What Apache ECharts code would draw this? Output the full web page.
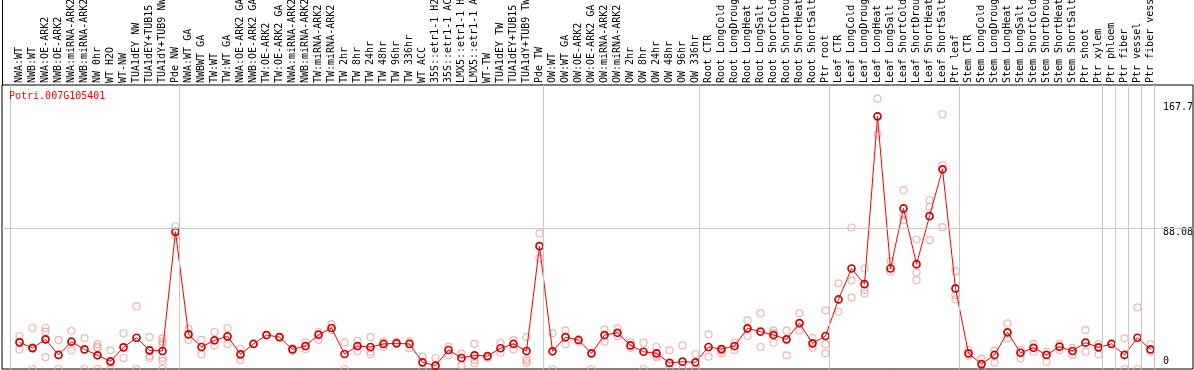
<!DOCTYPE html>
<html><head><meta charset="utf-8">
<script src="https://cdn.jsdelivr.net/npm/echarts@6/dist/echarts.min.js"></script>
<style>html,body{margin:0;padding:0;background:#fff}#c{width:1194px;height:370px}</style>
</head><body><div id="c"></div>
<script>
const chartTitle = 'Potri.007G105401';
const categories = [
 'NWA:WT','NWB:WT','NWA:OE-ARK2','NWB:OE-ARK2','NWA:miRNA-ARK2','NWB:miRNA-ARK2','NW 0hr','WT H2O','WT-NW',
 'TUA1dEY NW','TUA1dEY+TUB15 NW','TUA1dY+TUB9 NW','Pde NW',
 'NWA:WT GA','NWBWT GA','TW:WT','TW:WT GA','NWA:OE-ARK2 GA','NWB:OE-ARK2 GA','TW:OE-ARK2','TW:OE-ARK2 GA',
 'NWA:miRNA-ARK2','NWB:miRNA-ARK2','TW:miRNA-ARK2','TW:miRNA-ARK2','TW 2hr','TW 8hr','TW 24hr','TW 48hr','TW 96hr','TW 336hr',
 'WT ACC','35S::etr1-1 H2O','35S::etr1-1 ACC','LMX5::etr1-1 H2O','LMX5::etr1-1 ACC','WT-TW',
 'TUA1dEY TW','TUA1dEY+TUB15 TW','TUA1dY+TUB9 TW','Pde TW',
 'OW:WT','OW:WT GA','OW:OE-ARK2','OW:OE-ARK2 GA','OW:miRNA-ARK2','OW:miRNA-ARK2','OW 2hr','OW 8hr','OW 24hr','OW 48hr','OW 96hr','OW 336hr',
 'Root CTR','Root LongCold','Root LongDrought','Root LongHeat','Root LongSalt','Root ShortCold','Root ShortDrought','Root ShortHeat','Root ShortSalt','Ptr root',
 'Leaf CTR','Leaf LongCold','Leaf LongDrought','Leaf LongHeat','Leaf LongSalt','Leaf ShortCold','Leaf ShortDrought','Leaf ShortHeat','Leaf ShortSalt','Ptr leaf',
 'Stem CTR','Stem LongCold','Stem LongDrought','Stem LongHeat','Stem LongSalt','Stem ShortCold','Stem ShortDrought','Stem ShortHeat','Stem ShortSalt',
 'Ptr shoot','Ptr xylem','Ptr phloem','Ptr fiber','Ptr vessel','Ptr fiber vessel'
];
const means = [
 16.7,13.1,18.6,8.8,17.1,12.3,8.6,4.8,13.6,19.6,11.7,11.3,86.0,
 21.7,13.8,18.0,20.5,9.2,15.7,21.3,20.0,12.3,14.4,21.5,25.7,9.4,14.4,13.8,15.7,16.1,15.7,
 4.2,2.1,11.9,6.9,8.6,8.1,13.0,15.7,11.3,77.0,
 11.1,20.0,18.2,9.8,21.3,22.7,14.8,10.8,9.8,3.8,4.6,4.2,
 13.8,12.5,14.4,25.5,23.4,21.3,18.6,28.8,16.1,20.7,
 43.6,63.0,53.2,158.4,63.0,100.7,65.7,95.8,125.2,50.5,
 9.8,3.1,8.8,23.0,10.2,13.3,8.8,14.0,11.3,
 16.5,13.6,15.7,8.8,19.6,12.3
];
const replicates = [
 [20.7,12.3,17.1],[25.7,0,13.6],[25.7,23.4,7.5],[18.2,0],[23.8,11.7],[19.4,0],[15.6,14,13,0],[11.7,3.6,0],[22.4,6.9],
 [39.2,0],[20,8.1,6.9],[19.2,17.1,15.5,6.9,5,0],[89.5,83.7],
 [25.2,18.2],[18.2,9.2],[23.2,14.8],[25.7,15.7],[12.7,5.6],[15.7],[21.3],[20.0],
 [13.3,11.5],[16.7,12.5],[23.2,18.2],[28,24.4],[16.7,0],[17.7,11.3],[20,10.8,9.2],[17.1,14],[17.1],[17.1,13],
 [7.7,0],[6.9],[14,8.8],[9.6,2.3],[15.7,5.6,3.6],[6.9],
 [16.3,10.2],[18,12.3],[20,6.4,5,3.6],[85,69.3],
 [22.5,0],[24.2,15.5],[17.1],[0],[24.9,17.1],[25.5,20.7],[16.7,13.3],[16.5,0],[13.8,8.3,7.3],[11.7,0],[14.8,0],[9.4,0],
 [21.7,7.7],[11.5,9.8],[16.5,11.9],[30.5,20.7],[34.9,13.8],[24,22.7,16.5],[24,8.6],[34.9,24.2],[19.6,13.3],[36.8,15.5,9.8],
 [53.7,35.9],[88.7,55.5,44.9],[63,49.5,47.4],[169.5,147.1],[67.6,60.9],[112.1,96.4,93.3],[81.2,60.5,55.7],[105.8,101.6,80.8],[159.7,127.9,88.9],[61.4,46.3,43.6],
 [11.9,8.3],[6.3,0],[11.5,3.9],[28.6,19.2],[11.9,6.7],[15.7,10.8],[10.8,4.6],[15.7,11.9],[13.3,8.8],
 [24.4,10.8],[15.5,9.2],[15.7],[19.2,0],[38.6,0],[15.5,10.8]
];
const groupStarts = [0,13,41,53,63,73,84,85,86,87,88];
const yTickValues = [0, 88.08, 167.7];
const yTickLabels = ['0', '88.08', '167.7'];
const yGridValues = [88.08];
const yMax = 178.05;

const FONT = 'DejaVu Sans Mono';
const XMIN = -17.5 / 13;
const XMAX = XMIN + 1191 / 13;
const boundaries = groupStarts.map(k => k - 9 / 13);

const repData = [];
replicates.forEach((arr, i) => arr.forEach(v => repData.push([i, v])));

const chart = echarts.init(document.getElementById('c'), null, {renderer: 'canvas'});
chart.setOption({
  animation: false,
  backgroundColor: '#fff',
  title: {
    text: chartTitle, left: 9, top: 91, padding: 0,
    textStyle: {color: '#ff0000', fontSize: 10, fontWeight: 'normal', fontFamily: FONT}
  },
  grid: [
    {left: 2, right: 1, top: 85, bottom: 1, show: true, borderColor: '#000', borderWidth: 1, backgroundColor: 'transparent', containLabel: false, outerBoundsMode: 'none'},
    {left: 2, right: 1, top: 0, height: 85, show: false, containLabel: false, outerBoundsMode: 'none'}
  ],
  xAxis: [
    {
      type: 'value', gridIndex: 0, position: 'top', min: XMIN, max: XMAX,
      axisLine: {show: false},
      splitLine: {show: false},
      axisTick: {show: true, customValues: boundaries, length: 85, lineStyle: {color: '#c8c8c8', width: 1}},
      axisLabel: {
        show: true, customValues: categories.map((_, i) => i), rotate: 90, margin: 2,
        formatter: v => categories[Math.round(v)] || '',
        fontFamily: FONT, fontSize: 10, color: '#000', hideOverlap: false
      }
    },
    {type: 'value', gridIndex: 1, min: 0, max: 1, show: false}
  ],
  yAxis: [
    {
      type: 'value', gridIndex: 0, position: 'right', min: 0, max: yMax,
      axisLine: {show: false}, axisTick: {show: false}, splitLine: {show: false},
      axisLabel: {
        inside: true, customValues: yTickValues, margin: 30, align: 'left',
        fontFamily: FONT, fontSize: 10, color: '#000',
        formatter: v => {
          const i = yTickValues.findIndex(t => Math.abs(t - v) < 1e-6);
          const s = i >= 0 ? yTickLabels[i] : '';
          if (i === 0) return '{z|' + s + '}';
          if (i === 2) return '{b|' + s + '}';
          return '{t|' + s + '}';
        },
        rich: {
          z: {padding: [0, 0, 15, 0], fontFamily: FONT, fontSize: 10, color: '#000'},
          t: {padding: [8, 0, 0, 0], fontFamily: FONT, fontSize: 10, color: '#000'},
          b: {padding: [11, 0, 0, 0], fontFamily: FONT, fontSize: 10, color: '#000'}
        }
      }
    },
    {
      type: 'value', gridIndex: 1, position: 'right', min: 0, max: 1,
      axisLine: {show: true, lineStyle: {color: '#000', width: 1}},
      axisTick: {show: false}, axisLabel: {show: false}, splitLine: {show: false}
    }
  ],
  series: [
    {
      type: 'scatter', xAxisIndex: 0, yAxisIndex: 0, data: [], z: 1, silent: true,
      markLine: {
        silent: true, symbol: 'none', animation: false,
        label: {show: false},
        lineStyle: {color: '#c8c8c8', width: 1, type: 'solid'},
        emphasis: {disabled: true},
        data: boundaries.map(b => ({xAxis: b})).concat(yGridValues.map(v => ({yAxis: v})))
      }
    },
    {
      type: 'scatter', xAxisIndex: 0, yAxisIndex: 0, data: repData, z: 2, silent: true, clip: false,
      symbol: 'circle', symbolSize: 7,
      itemStyle: {color: 'rgba(0,0,0,0)', borderColor: '#eea0a0', borderWidth: 1.2}
    },
    {
      type: 'line', xAxisIndex: 0, yAxisIndex: 0, data: means.map((v, i) => [i, v]), z: 3, silent: true, clip: false,
      lineStyle: {color: '#ff0000', width: 1},
      symbol: 'circle', symbolSize: 7, showAllSymbol: true,
      itemStyle: {color: 'rgba(0,0,0,0)', borderColor: '#d00000', borderWidth: 1.7}
    }
  ]
});
</script>
</body></html>
